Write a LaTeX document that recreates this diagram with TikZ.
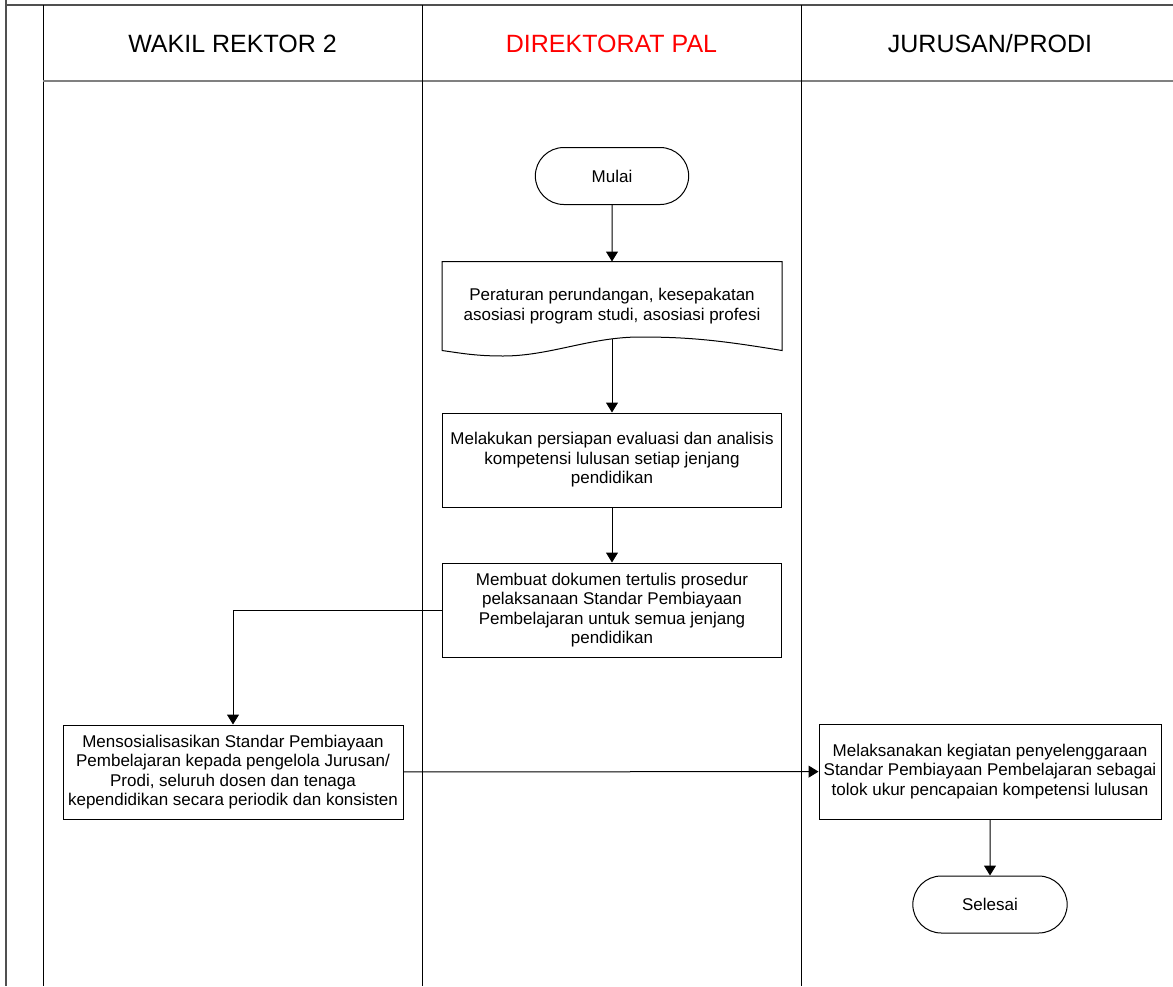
\documentclass[tikz,border=0pt]{standalone}
\usepackage{fontspec}
\setmainfont{Liberation Sans}
\usetikzlibrary{arrows.meta,shapes.misc}
\definecolor{framegray}{RGB}{80,80,80}
\definecolor{headred}{RGB}{255,0,0}
\begin{document}
\begin{tikzpicture}[x=1pt,y=-1pt,
    line width=1pt,
    every node/.style={font=\fontsize{17}{19.5}\selectfont,align=center},
    lanehead/.style={font=\fontsize{25}{30}\selectfont,anchor=base},
    procbox/.style={draw,rectangle,minimum width=339pt,minimum height=94pt,inner sep=2pt},
    terminal/.style={draw,rounded rectangle,minimum width=160pt,minimum height=57pt},
    flow/.style={-{Triangle[length=10pt,width=12pt]}}]
    \useasboundingbox (0,0) rectangle (1173,986);
    %% pool frame
    \draw[framegray,line width=1.6pt] (6,0) -- (6,986);
    \draw[framegray,line width=1.6pt] (6,5) -- (1173,5);
    \draw (43,5) -- (43,986);
    \draw[gray,line width=1.4pt] (43,81) -- (1173,81);
    \foreach \x in {422,801} {
        \draw (\x,5) -- (\x,986);
    }
    %% lane headers
    \node[lanehead] (hwakil) at (232.5,52) {WAKIL REKTOR 2};
    \node[lanehead,text=headred] (hpal) at (611.5,52) {DIREKTORAT PAL};
    \node[lanehead] (hprodi) at (990,52) {JURUSAN/PRODI};
    %% direktorat lane
    \node[terminal] (mulai) at (612,176) {Mulai};
    \node[minimum width=339pt,minimum height=88pt] (doc) at (612,306)
        {Peraturan perundangan, kesepakatan\\asosiasi program studi, asosiasi profesi};
    \draw (doc.south west) -- (doc.north west) -- (doc.north east) -- (doc.south east)
        .. controls ++(-61,-10) and (690,337) .. (640,337)
        .. controls (590,337) and (550,356) .. (503,356)
        .. controls (475,356) and (460,353) .. (doc.south west);
    \node[procbox] (persiapan) at (612,460)
        {Melakukan persiapan evaluasi dan analisis\\kompetensi lulusan setiap jenjang\\pendidikan};
    \node[procbox] (dokumen) at (612,610)
        {Membuat dokumen tertulis prosedur\\pelaksanaan Standar Pembiayaan\\Pembelajaran untuk semua jenjang\\pendidikan};
    %% wakil rektor lane
    \node[procbox,minimum width=340pt] (sosialisasi) at (233,772)
        {Mensosialisasikan Standar Pembiayaan\\Pembelajaran kepada pengelola Jurusan/\\Prodi, seluruh dosen dan tenaga\\kependidikan secara periodik dan konsisten};
    %% jurusan lane
    \node[procbox,minimum width=342pt,minimum height=95pt] (pelaksanaan) at (990,771.5)
        {Melaksanakan kegiatan penyelenggaraan\\Standar Pembiayaan Pembelajaran sebagai\\tolok ukur pencapaian kompetensi lulusan};
    \node[terminal,minimum width=161pt] (selesai) at (990,904.5) {Selesai};
    %% connectors
    \draw[flow] (mulai) -- (doc.north);
    \draw[flow] ([yshift=12pt]doc.south) -- (persiapan);
    \draw[flow] (persiapan) -- (dokumen);
    \draw[flow] (dokumen.west) -| (sosialisasi.north);
    \draw[flow] (sosialisasi) -- (pelaksanaan);
    \draw[flow] (pelaksanaan) -- (selesai);
\end{tikzpicture}
\end{document}
